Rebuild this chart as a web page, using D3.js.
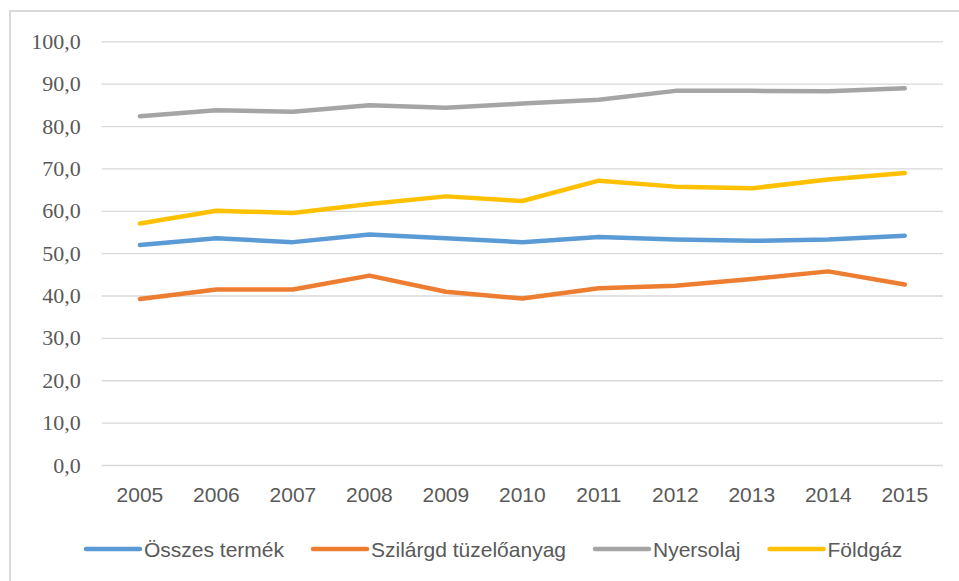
<!DOCTYPE html>
<html>
<head>
<meta charset="utf-8">
<script src="https://cdn.jsdelivr.net/npm/d3@7"></script>
<style>
  body { margin: 0; background: #fff; }
</style>
</head>
<body>
<svg id="chart" width="959" height="581"></svg>
<script>
// data
var years = ['2005', '2006', '2007', '2008', '2009', '2010', '2011', '2012', '2013', '2014', '2015']
var osszes = [51.9, 53.5, 52.6, 54.4, 53.5, 52.6, 53.8, 53.2, 52.9, 53.2, 54.1]
var szilard = [39.2, 41.4, 41.4, 44.7, 40.9, 39.3, 41.7, 42.3, 43.9, 45.7, 42.6]
var nyersolaj = [82.3, 83.7, 83.4, 84.9, 84.3, 85.3, 86.2, 88.3, 88.3, 88.2, 88.9]
var foldgaz = [57.0, 60.0, 59.5, 61.6, 63.4, 62.3, 67.1, 65.7, 65.3, 67.4, 68.9]
var seriesNames = ['Összes termék', 'Szilárgd tüzelőanyag', 'Nyersolaj', 'Földgáz']
var yTicks = [0, 10, 20, 30, 40, 50, 60, 70, 80, 90, 100]

;(function () {
  var svg = d3.select('#chart')
  var colors = ['#5b9bd5', '#ed7d31', '#a5a5a5', '#ffc000']
  var serif = '"Liberation Serif", "Times New Roman", "DejaVu Serif", serif'
  var sans = '"Liberation Sans", Arial, sans-serif'
  var series = [osszes, szilard, nyersolaj, foldgaz].map(function (vals, i) {
    return {name: seriesNames[i], color: colors[i], values: vals}
  })

  var plot = {left: 101.7, right: 943, top: 41.3, bottom: 465}

  // frame around the chart area
  svg.append('rect')
      .attr('x', 10)
      .attr('y', 11)
      .attr('width', 1000)
      .attr('height', 600)
      .attr('fill', 'none')
      .attr('stroke', '#d9d9d9')
      .attr('stroke-width', 2)

  /*
      --------------------------------------
      Scales
  */
  var mapx = d3.scaleBand()
      .domain(years)
      .range([plot.left, plot.right])

  var mapy = d3.scaleLinear()
      .domain([0, 100])
      .range([plot.bottom, plot.top])

  /*
      --------------------------------------
      Grid + axis Y
  */
  var yAxis = d3.axisLeft(mapy)
      .tickValues(yTicks)
      .tickSize(-(plot.right - plot.left))
      .tickPadding(21)
      .tickFormat(d => d3.format('.1f')(d).replace('.', ','))

  var gy = svg.append('g').classed('ax y', true)
      .attr('transform', `translate(${plot.left},0)`)
      .call(yAxis)
      .attr('font-family', serif)
      .attr('font-size', 22)
  gy.select('.domain').remove()
  gy.selectAll('line').attr('stroke', '#d9d9d9').attr('stroke-width', 1.3)
  gy.selectAll('text')
      .style('font-family', serif)
      .style('font-size', '22px')
      .attr('fill', '#595959')

  /*
      --------------------------------------
      Axis X
  */
  var xAxis = d3.axisBottom(mapx).tickSize(0).tickPadding(22)
  var gx = svg.append('g').classed('ax x', true)
      .attr('transform', `translate(0,${plot.bottom})`)
      .call(xAxis)
  gx.select('.domain').remove()
  gx.selectAll('text')
      .style('font-family', sans)
      .style('font-size', '21px')
      .attr('fill', '#595959')

  /*
      --------------------------------------
      Lines
  */
  var line = d3.line()
      .x((d, i) => mapx(years[i]) + mapx.bandwidth() / 2)
      .y(d => mapy(d))

  svg.append('g').classed('lines', true)
      .selectAll('path')
      .data(series)
      .enter()
      .append('path')
      .attr('d', d => line(d.values))
      .attr('fill', 'none')
      .attr('stroke', d => d.color)
      .attr('stroke-width', 4.5)
      .attr('stroke-linejoin', 'round')
      .attr('stroke-linecap', 'round')

  /*
      --------------------------------------
      Legend
  */
  var legend = svg.append('g').classed('legend', true)
      .attr('transform', 'translate(86,549)')
  var xpos = 0
  series.forEach(function (s) {
    var item = legend.append('g').attr('transform', `translate(${xpos},0)`)
    item.append('line')
        .attr('x1', 0).attr('x2', 54)
        .attr('stroke', s.color)
        .attr('stroke-width', 4.5)
        .attr('stroke-linecap', 'round')
    var t = item.append('text')
        .attr('x', 58)
        .attr('dy', '0.36em')
        .style('font-family', sans)
        .style('font-size', '21px')
        .attr('fill', '#595959')
        .text(s.name)
    xpos += 58 + t.node().getComputedTextLength() + 29
  })
})()
</script>
</body>
</html>
